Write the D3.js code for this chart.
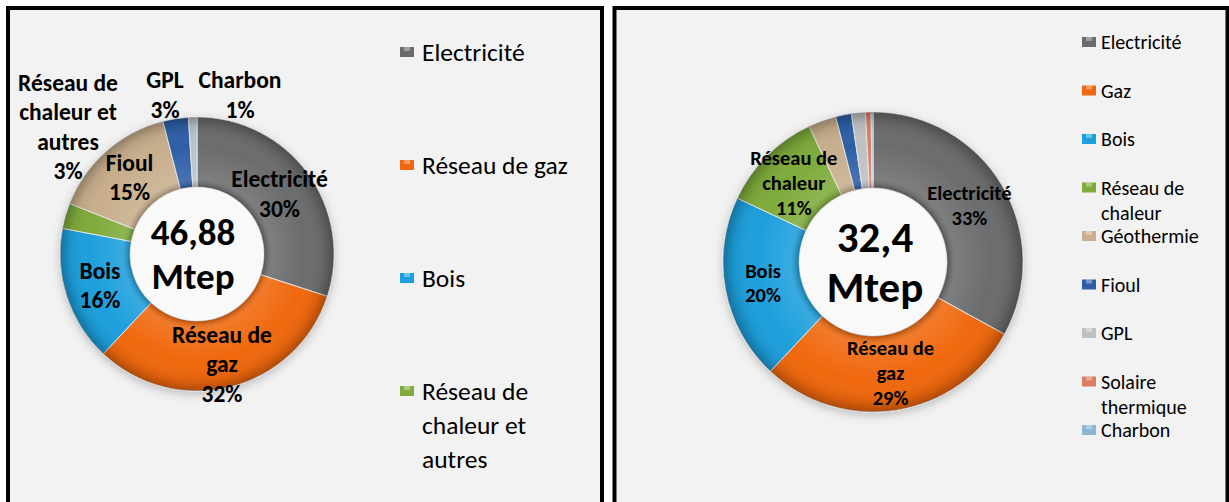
<!DOCTYPE html>
<html>
<head>
<meta charset="utf-8">
<script src="https://cdn.jsdelivr.net/npm/d3@7"></script>
<style>
  body { margin: 0; background: #fff; }
  text { font-family: Carlito, Calibri, Lato, "Open Sans", sans-serif; }
</style>
</head>
<body>
<div id="chart"></div>
<script>
// Data: left donut (46,88 Mtep)
var leftCats = ["Electricité", "Réseau de gaz", "Bois", "Réseau de chaleur et autres", "Fioul", "GPL", "Charbon"];
var leftValues = [30, 32, 16, 3, 15, 3, 1];
var leftColors = ["#6b6c6e", "#f0670f", "#1c9fdc", "#7eab3a", "#c8ae8c", "#2f5fa6", "#b7c2cc"];
var leftLabelNames = [["Electricité"], ["Réseau de", "gaz"], ["Bois"], ["Réseau de", "chaleur et", "autres"], ["Fioul"], ["GPL"], ["Charbon"]];
var leftLegend = [["Electricité"], ["Réseau de gaz"], ["Bois"], ["Réseau de", "chaleur et", "autres"]];
var leftTotal = ["46,88", "Mtep"];

// Data: right donut (32,4 Mtep)
var rightCats = ["Electricité", "Gaz", "Bois", "Réseau de chaleur", "Géothermie", "Fioul", "GPL", "Solaire thermique", "Charbon"];
var rightValues = [33, 29, 20, 11, 3, 1.7, 1.5, 0.6, 0.2];
var rightColors = ["#6b6c6e", "#f0670f", "#1c9fdc", "#7eab3a", "#c8ae8c", "#2f5fa6", "#bfc0c2", "#da7e63", "#8db7d6"];
var rightLabelNames = [["Electricité"], ["Réseau de", "gaz"], ["Bois"], ["Réseau de", "chaleur"], null, null, null, null, null];
var rightLegend = [["Electricité"], ["Gaz"], ["Bois"], ["Réseau de", "chaleur"], ["Géothermie"], ["Fioul"], ["GPL"], ["Solaire", "thermique"], ["Charbon"]];
var rightTotal = ["32,4", "Mtep"];

var svg = d3.select("#chart").append("svg")
  .attr("width", 1229)
  .attr("height", 502);

var defs = svg.append("defs");
defs.append("filter").attr("id", "shadow")
  .attr("x", "-20%").attr("y", "-20%").attr("width", "140%").attr("height", "140%")
  .append("feDropShadow")
  .attr("dx", 0).attr("dy", 3).attr("stdDeviation", 5)
  .attr("flood-color", "#000").attr("flood-opacity", 0.22);

// panels
svg.append("rect").attr("x", 8).attr("y", 8).attr("width", 594).attr("height", 540)
  .attr("fill", "#f2f2f2").attr("stroke", "#000").attr("stroke-width", 4);
svg.append("rect").attr("x", 614.5).attr("y", 8).attr("width", 613).attr("height", 540)
  .attr("fill", "#f2f2f2").attr("stroke", "#000").attr("stroke-width", 4);

function drawDonut(opt) {
  var g = svg.append("g").attr("transform", `translate(${opt.cx}, ${opt.cy})`);

  var pie = d3.pie().sort(null).value(d => d.value);
  var arcs = pie(opt.cats.map((c, i) => ({ name: c, value: opt.values[i], label: opt.labels[i], color: opt.colors[i] })));

  var arc = d3.arc().innerRadius(opt.inner).outerRadius(opt.outer);
  var labelArc = d3.arc().innerRadius(opt.labelR).outerRadius(opt.labelR);

  // bevel gradient overlay
  var gid = "bevel" + opt.id;
  var k = opt.inner / opt.outer;
  var grad = defs.append("radialGradient").attr("id", gid)
    .attr("gradientUnits", "userSpaceOnUse").attr("cx", 0).attr("cy", 0).attr("r", opt.outer);
  grad.append("stop").attr("offset", k).attr("stop-color", "#000").attr("stop-opacity", 0.25);
  grad.append("stop").attr("offset", k + 0.06).attr("stop-color", "#fff").attr("stop-opacity", 0.12);
  grad.append("stop").attr("offset", k + 0.3).attr("stop-color", "#fff").attr("stop-opacity", 0);
  grad.append("stop").attr("offset", 0.93).attr("stop-color", "#000").attr("stop-opacity", 0.08);
  grad.append("stop").attr("offset", 1).attr("stop-color", "#000").attr("stop-opacity", 0.28);

  var ring = g.append("g").attr("filter", "url(#shadow)");
  ring.selectAll("path.slice")
    .data(arcs)
    .enter()
    .append("path")
    .attr("class", "slice")
    .attr("d", arc)
    .attr("fill", d => d.data.color)
    .attr("stroke", "#e4e4e4")
    .attr("stroke-width", 1);

  g.selectAll("path.bevel")
    .data(arcs)
    .enter()
    .append("path")
    .attr("class", "bevel")
    .attr("d", arc)
    .attr("fill", `url(#${gid})`);

  // hole
  g.append("circle").attr("r", opt.inner - 0.5).attr("fill", "#f9f9f9");

  // data labels
  arcs.forEach(function(d, i) {
    if (!d.data.label) return;
    var lines = d.data.label.concat([`${d.data.value}%`]);
    var pos = opt.labelPos && opt.labelPos[i] ? opt.labelPos[i] : labelArc.centroid(d);
    var t = g.append("text")
      .attr("text-anchor", "middle")
      .attr("font-weight", "bold")
      .attr("font-size", opt.labelSize + "px")
      .attr("fill", "#000");
    var y0 = pos[1] - (lines.length - 1) * opt.labelLH / 2;
    lines.forEach(function(line, j) {
      t.append("tspan")
        .attr("x", pos[0])
        .attr("y", y0 + j * opt.labelLH)
        .attr("dominant-baseline", "central")
        .text(line);
    });
  });

  // total in the centre
  opt.total.forEach(function(line, j) {
    g.append("text")
      .attr("x", opt.totalDx)
      .attr("y", (j === 0 ? -1 : 1) * opt.totalGap)
      .attr("text-anchor", "middle")
      .attr("dominant-baseline", "central")
      .attr("font-weight", "bold")
      .attr("font-size", opt.totalSize + "px")
      .text(line);
  });

  // legend
  var leg = svg.append("g");
  opt.legend.forEach(function(lines, i) {
    var y = opt.legY + i * opt.legStep;
    leg.append("rect")
      .attr("x", opt.legX)
      .attr("y", y - 5)
      .attr("width", 14)
      .attr("height", 10)
      .attr("fill", opt.colors[i]);
    leg.append("rect")
      .attr("x", opt.legX + 4)
      .attr("y", y - 5)
      .attr("width", 6)
      .attr("height", 4)
      .attr("fill", "#fff")
      .attr("opacity", 0.35);
    lines.forEach(function(line, j) {
      leg.append("text")
        .attr("x", opt.legX + opt.legTextDx)
        .attr("y", y + j * opt.legLH)
        .attr("dominant-baseline", "central")
        .attr("font-size", opt.legSize + "px")
        .attr("fill", "#000")
        .text(line);
    });
  });
}

drawDonut({
  id: "L", cx: 197, cy: 254, outer: 137, inner: 67, labelR: 102,
  cats: leftCats, values: leftValues, colors: leftColors, labels: leftLabelNames,
  labelSize: 23.5, labelLH: 29.5,
  // outside labels placed by Excel away from their thin slices
  labelPos: [null, [25, 110], null, [-129, -127], null, [-32, -159], [43, -159]],
  total: leftTotal, totalSize: 37, totalDx: -4, totalGap: 22,
  legend: leftLegend, legX: 400, legY: 52, legStep: 113, legTextDx: 22, legLH: 34, legSize: 25.5
});

drawDonut({
  id: "R", cx: 873, cy: 262, outer: 150, inner: 74, labelR: 112,
  cats: rightCats, values: rightValues, colors: rightColors, labels: rightLabelNames,
  labelSize: 20.5, labelLH: 25,
  labelPos: null,
  total: rightTotal, totalSize: 43, totalDx: 2, totalGap: 25,
  legend: rightLegend, legX: 1082, legY: 42, legStep: 48.5, legTextDx: 19, legLH: 25, legSize: 20
});
</script>
</body>
</html>
